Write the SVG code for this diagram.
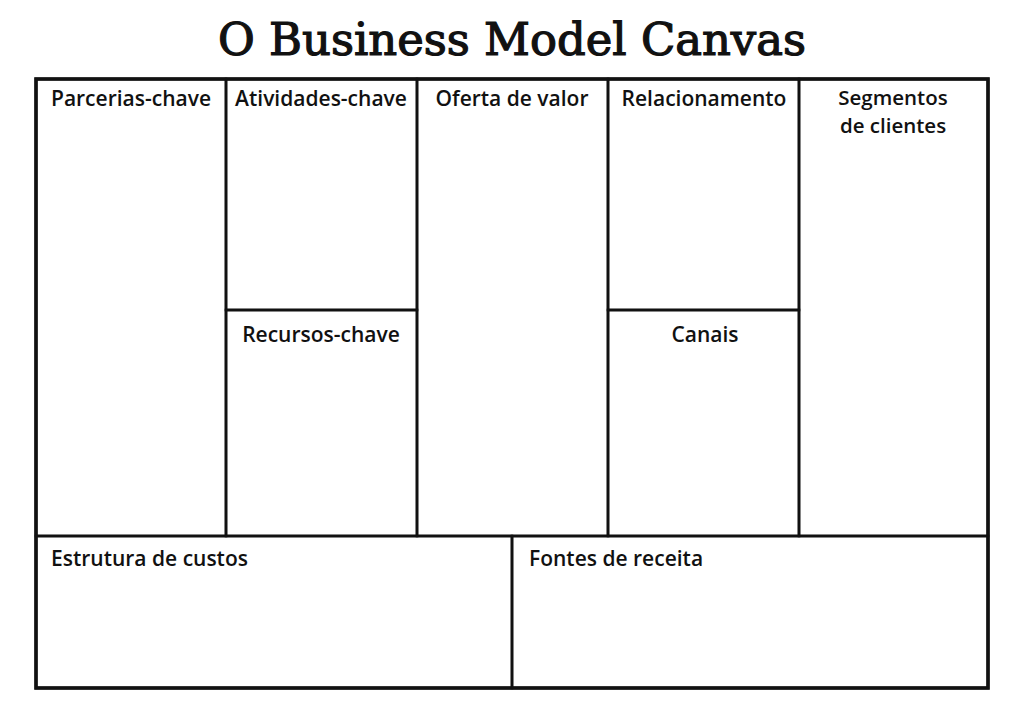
<svg xmlns="http://www.w3.org/2000/svg" width="1024" height="724" viewBox="0 0 1024 724">
<style>
.title{font-family:"DejaVu Serif","Liberation Serif",serif;font-weight:normal;font-size:44px;fill:#111;stroke:#111;stroke-width:1.2;}
.lbl{font-family:"Open Sans","Lato","DejaVu Sans",sans-serif;font-weight:600;font-size:21px;fill:#111;}
.c{text-anchor:middle;}
.box{fill:none;stroke:#111;stroke-width:2.6;}
.outer{fill:none;stroke:#111;stroke-width:3.6;}
</style>
<rect width="1024" height="724" fill="#fff"/>
<text class="title c" x="512" y="55" textLength="588" lengthAdjust="spacingAndGlyphs">O Business Model Canvas</text>
<g id="parcerias">
<rect class="box" x="36" y="79" width="190" height="457"/>
<text class="lbl c" x="131" y="106">Parcerias-chave</text>
</g>
<g id="atividades">
<rect class="box" x="226" y="79" width="191" height="231"/>
<text class="lbl c" x="321" y="106">Atividades-chave</text>
</g>
<g id="recursos">
<rect class="box" x="226" y="310" width="191" height="226"/>
<text class="lbl c" x="321" y="342">Recursos-chave</text>
</g>
<g id="oferta">
<rect class="box" x="417" y="79" width="191" height="457"/>
<text class="lbl c" x="512" y="106">Oferta de valor</text>
</g>
<g id="relacionamento">
<rect class="box" x="608" y="79" width="191" height="231"/>
<text class="lbl c" x="704" y="106">Relacionamento</text>
</g>
<g id="canais">
<rect class="box" x="608" y="310" width="191" height="226"/>
<text class="lbl c" x="705" y="342">Canais</text>
</g>
<g id="segmentos">
<rect class="box" x="799" y="79" width="189" height="457"/>
<text class="lbl c" x="893" y="105" style="font-size:20.5px">Segmentos</text>
<text class="lbl c" x="893" y="133" style="font-size:20.5px">de clientes</text>
</g>
<g id="custos">
<rect class="box" x="36" y="536" width="476" height="152"/>
<text class="lbl" x="51" y="566">Estrutura de custos</text>
</g>
<g id="receita">
<rect class="box" x="512" y="536" width="476" height="152"/>
<text class="lbl" x="529" y="566">Fontes de receita</text>
</g>
<g id="connectors"></g>
<rect class="outer" x="36" y="79" width="952" height="609"/>
</svg>
